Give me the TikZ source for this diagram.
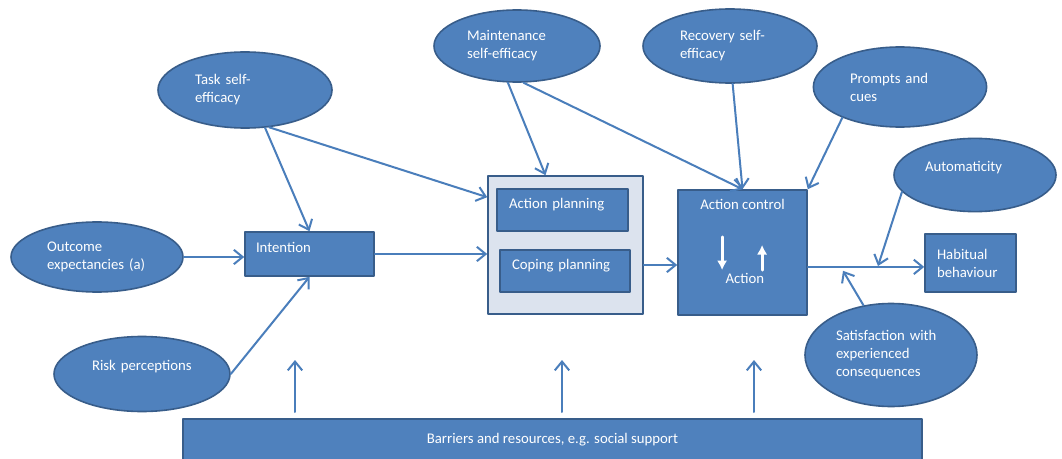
\documentclass[tikz,border=0pt]{standalone}
\usepackage{fontspec}
\setmainfont{Carlito}
\usepackage{tikz}
\definecolor{ovalfill}{HTML}{4F81BD}
\definecolor{ovalline}{HTML}{385D8A}
\definecolor{panelbg}{HTML}{DCE3EE}
\definecolor{link}{HTML}{4A7EBB}
\usetikzlibrary{
  arrows.meta,
  positioning,
  calc,
  shapes.geometric
}
\tikzset{
  every picture/.style={line cap=round, line join=round},
  every node/.style={font=\fontsize{10.5}{12.8}\selectfont, text=white},
  oval/.style={
    ellipse,
    draw=ovalline,
    fill=ovalfill,
    line width=0.04cm,
    inner sep=0pt,
    text width=2.5cm,
    align=left
  },
  box/.style={
    rectangle,
    draw=ovalline,
    fill=ovalfill,
    line width=0.04cm,
    inner sep=0pt,
    text width=2.675cm,
    align=left
  },
  bar/.style={
    rectangle,
    draw=ovalline,
    fill=ovalfill,
    line width=0.04cm,
    inner sep=0pt,
    align=center
  },
  panel/.style={rectangle, draw=ovalline, fill=panelbg, line width=0.04cm, inner sep=0pt},
  oneline/.style={text height=0.25cm, text depth=0.31cm},
  raised/.style={text height=0.25cm, text depth=0.42cm},
  arrow/.style={-{Straight Barb[length=0.22cm, width=0.36cm]}, line width=0.05cm, draw=link},
  whitearrow/.style={-{Latex[length=0.24cm, width=0.26cm]}, line width=0.07cm, draw=white},
  annot/.style={inner sep=0pt}
}

\begin{document}
\begin{tikzpicture}
  \useasboundingbox[fill=white] (0,0) rectangle (26.55,11.45);

  % Ovals
  \node[oval, minimum width=4.35cm, minimum height=1.9cm] (task) at (6.125,9.2) {Task self-\\efficacy};
  \node[oval, minimum width=4.15cm, minimum height=1.8cm] (maint) at (12.925,10.3) {Maintenance\\self-efficacy};
  \node[oval, minimum width=4.35cm, minimum height=1.85cm] (recov) at (18.25,10.3) {Recovery self-\\efficacy};
  \node[oval, minimum width=4.33cm, minimum height=2cm] (prompts) at (22.5,9.275) {Prompts and\\cues};
  \node[oval, raised, minimum width=4.05cm, minimum height=1.83cm] (automat) at (24.375,7.075) {Automaticity};
  \node[oval, minimum width=4.3cm, minimum height=1.75cm] (outcome) at (2.425,5.025) {Outcome\\expectancies (a)};
  \node[oval, raised, minimum width=4.4cm, minimum height=1.875cm] (risk) at (3.55,2.1) {Risk perceptions};
  \node[oval, text width=2.75cm, minimum width=4.3cm, minimum height=2.575cm] (satis) at (22.275,2.575) {Satisfaction with\\experienced\\consequences};

  % Boxes
  \node[box, oneline, minimum width=3.225cm, minimum height=1.1cm] (intention) at (7.7375,5.1) {Intention};
  \node[panel, minimum width=3.875cm, minimum height=3.45cm] (planbox) at (14.1375,5.325) {};
  \node[box, oneline, minimum width=3.275cm, minimum height=1.05cm] (actplan) at (14.0625,6.2) {Action planning};
  \node[box, oneline, text width=2.65cm, minimum width=3.25cm, minimum height=1.05cm] (copplan) at (14.125,4.675) {Coping planning};
  \node[box, minimum width=3.225cm, minimum height=3.125cm] (actctrl) at (18.5625,5.1375) {};
  \node[box, text width=1.675cm, minimum width=2.275cm, minimum height=1.45cm] (habit) at (24.2625,4.875) {Habitual\\behaviour};
  \node[bar, raised, anchor=north, minimum width=18.475cm, minimum height=1.4cm] (barrier) at (13.8125,1.0) {Barriers and resources, e.g. social support};

  % Inside action control
  \node[annot, below=0.25cm of actctrl.north] (ctrltitle) {Action control};
  \node[annot] (acttxt) at ($(actctrl.center)+(0.06,-0.64)$) {Action};
  \draw[whitearrow] ($(actctrl.center)+(-0.51,0.39)$) -- ++(0,-0.83);
  \draw[whitearrow] ($(actctrl.center)+(0.49,-0.44)$) -- ++(0,0.63);

  % Into intention
  \draw[arrow] (outcome.east) -- (outcome.east -| intention.west);
  \draw[arrow] (risk.east) -- (intention.south);
  \draw[arrow] (task.-62) -- (intention.north);

  % Into planning
  \draw[arrow] (task.-57) -- ([yshift=-0.55cm]planbox.north west);
  \draw[arrow] (intention.east) -- (intention.east -| planbox.west);
  \draw[arrow] (maint.-104) -- ([xshift=-0.5cm]planbox.north);

  % Into action control
  \draw[arrow] (maint.-80) -- (actctrl.north);
  \draw[arrow] (recov.-86) -- (actctrl.north);
  \draw[arrow] (prompts.-152) -- (actctrl.north east);
  \coordinate (planout) at ([yshift=-0.5cm]planbox.east);
  \draw[arrow] (planout) -- (planout -| actctrl.west);

  % Towards habitual behaviour
  \coordinate (ctrlout) at ([yshift=-0.36cm]actctrl.east);
  \draw[arrow] (ctrlout) -- (ctrlout -| habit.west);
  \coordinate (autohit) at (21.95,4.8);
  \coordinate (sathit) at (21.075,4.68);
  \draw[arrow] (automat.193) -- (autohit);
  \draw[arrow] (satis.119) -- (sathit);

  % Barriers and resources
  \foreach \x/\name in {7.375/up1, 14.05/up2, 18.85/up3} {
    \coordinate (\name) at (\x,2.45);
    \draw[arrow] ($(\name |- barrier.north)+(0,0.15)$) -- (\name);
  }
\end{tikzpicture}
\end{document}
